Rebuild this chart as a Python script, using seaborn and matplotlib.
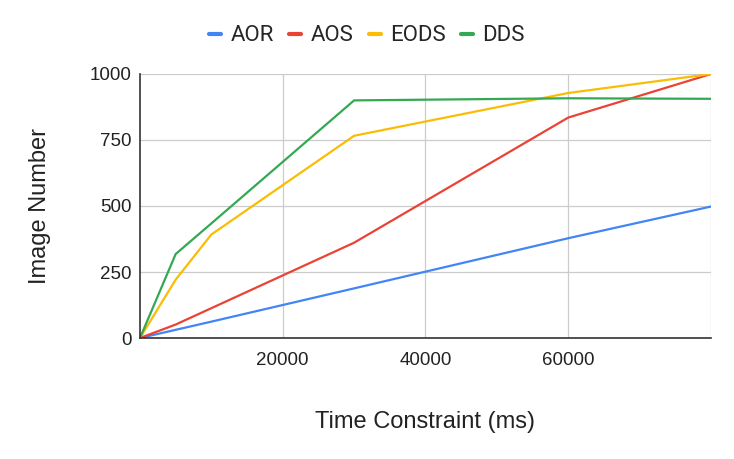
import pandas as pd
import matplotlib.pyplot as plt
import seaborn as sns

# values
time_ms = [0, 5000, 10000, 30000, 60000, 80000]
aor = [0, 31, 62, 188, 378, 498]
aos = [0, 51, 113, 361, 835, 1000]
eods = [0, 221, 392, 766, 928, 1000]
dds = [0, 318, 434, 900, 908, 906]

series_names = ["AOR", "AOS", "EODS", "DDS"]
colors = ["#4285F4", "#EA4335", "#FBBC04", "#34A853"]
y_ticks = [0, 250, 500, 750, 1000]
x_ticks = [20000, 40000, 60000, 80000]
x_tick_labels = ["20000", "40000", "60000", ""]

# long-form table for seaborn
frames = []
for name, vals in zip(series_names, [aor, aos, eods, dds]):
    frames.append(pd.DataFrame({"time": time_ms, "images": vals, "method": name}))
df = pd.concat(frames, ignore_index=True)

sns.set_style("white")
plt.rcParams['font.family'] = ['Liberation Sans', 'DejaVu Sans']

fig = plt.figure(figsize=(7.34, 4.59), dpi=100)
ax = fig.add_axes([0.1907, 0.2636, 0.778, 0.5752])

sns.lineplot(data=df, x="time", y="images", hue="method", hue_order=series_names,
             palette=colors, linewidth=1.6, ax=ax, legend=False)

ax.set_xlim(0, 80000)
ax.set_ylim(0, 1000)
ax.set_yticks(y_ticks)
ax.set_xticks(x_ticks)
ax.set_xticklabels(x_tick_labels)
ax.tick_params(axis="both", length=0, labelsize=13.5, colors="#222222")
ax.tick_params(axis="x", pad=10)
ax.tick_params(axis="y", pad=6)
ax.grid(True, color="#cccccc", linewidth=0.9)
ax.set_axisbelow(True)

for side in ["top", "right"]:
    ax.spines[side].set_visible(False)
for side in ["left", "bottom"]:
    ax.spines[side].set_color("#333333")
    ax.spines[side].set_linewidth(1.2)

ax.set_xlabel("Time Constraint (ms)", fontsize=17, color="#222222", labelpad=30)
ax.set_ylabel("Image Number", fontsize=17, color="#222222", labelpad=28)

# legend at the top, short line markers
handles = [plt.Line2D([0], [0], color=c, linewidth=3) for c in colors]
fig.legend(handles, series_names, loc="center", bbox_to_anchor=(0.5, 0.922), ncol=4,
           frameon=False, handlelength=0.55, handletextpad=0.4, columnspacing=0.7,
           prop={"family": "Roboto", "size": 16})

fig.savefig("out.png", dpi=100)
